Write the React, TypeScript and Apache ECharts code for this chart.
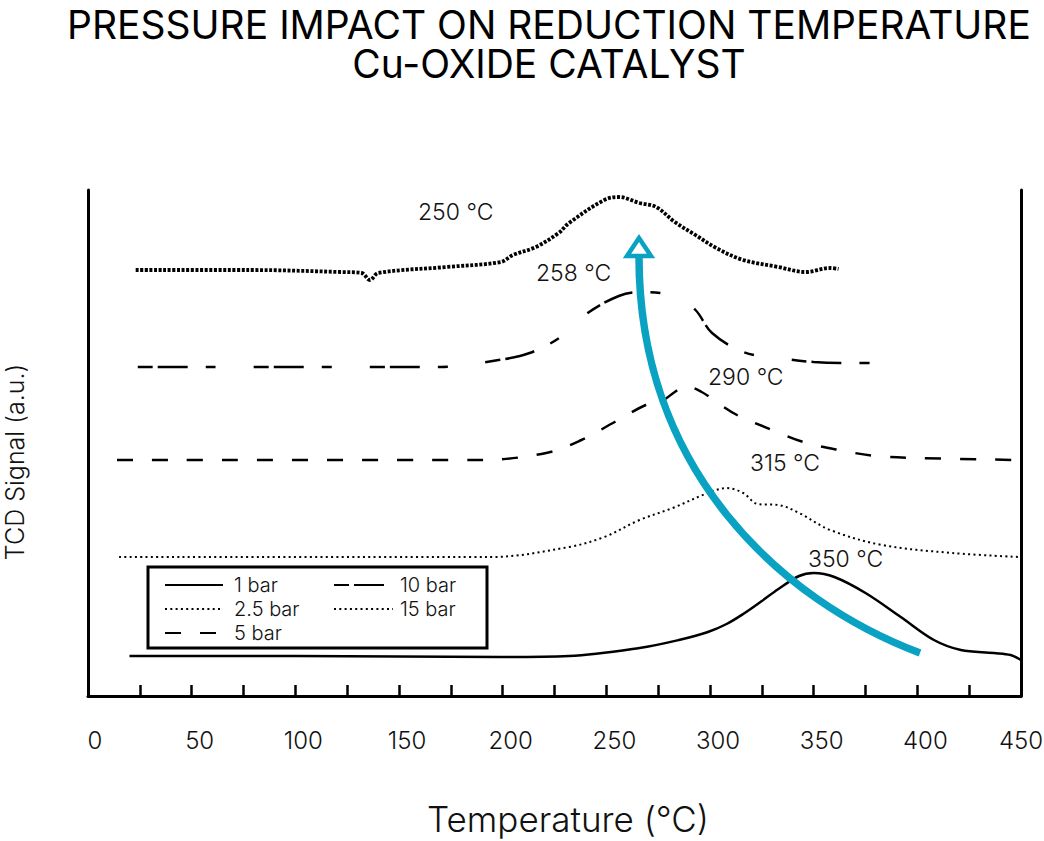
import React, { useEffect, useRef } from "react";
import * as echarts from "echarts";

// ---- data (temperature °C, TCD signal a.u.) ----
const seriesNames = ["1 bar", "2.5 bar", "5 bar", "10 bar", "15 bar"];

const bar1T = [20, 100, 199, 232, 266, 285, 299, 308, 316, 325, 333, 343, 350, 360, 375, 392, 408, 421, 437, 445, 450];
const bar1V = [40, 40, 39, 40, 48, 56, 64, 72, 82, 95, 107, 120, 123, 119, 103, 79, 56, 46, 43, 41, 36];

const bar25T = [15, 194, 232, 249, 266, 282, 299, 308, 316, 323, 333, 343, 358, 383, 417, 449];
const bar25V = [139, 139, 149, 159, 176, 188, 203, 208, 203, 192, 191, 183, 166, 151, 143, 139];

const bar5T = [14, 189, 221, 238, 254, 269, 276, 283, 288, 296, 303, 313, 330, 345, 362, 380, 400, 449];
const bar5V = [236, 236, 243, 256, 274, 291, 294, 304, 310, 304, 294, 281, 266, 254, 246, 240, 238, 236];

const bar10T = [24, 170, 198, 213, 228, 241, 256, 266, 276, 284, 293, 301, 316, 333, 350, 367, 392];
const bar10V = [329, 329, 336, 343, 359, 383, 400, 404, 403, 399, 386, 363, 344, 338, 334, 333, 333];

const bar15T = [23, 78, 122, 132, 136, 140, 173, 199, 205, 216, 227, 232, 249, 256, 266, 274, 283, 293, 303, 316, 333, 346, 358, 362];
const bar15V = [426, 426, 424, 423, 416, 423, 429, 434, 441, 449, 463, 473, 496, 499, 493, 489, 474, 461, 448, 436, 429, 424, 428, 427];

const peakLabels = ["250 °C", "258 °C", "290 °C", "315 °C", "350 °C"];
const xTickLabels = [0, 50, 100, 150, 200, 250, 300, 350, 400, 450];

const titleLine1 = "PRESSURE IMPACT ON REDUCTION TEMPERATURE";
const titleLine2 = "Cu-OXIDE CATALYST";
const xTitle = "Temperature (°C)";
const yTitle = "TCD Signal (a.u.)";

const FONT = "Inter, 'Noto Sans', sans-serif";
const TEAL = "#0aa2c2";

function pairs(t: number[], v: number[]) {
  return t.map((x, i) => [x, v[i]]);
}

export default function App() {
  const ref = useRef<HTMLDivElement>(null);

  useEffect(() => {
    if (!ref.current) return;
    const chart = echarts.init(ref.current, null, { renderer: "svg" });

    const lineStyles: any[] = [
      { width: 2.5, type: "solid" },
      { width: 2, type: [2, 3.3] },
      { width: 2.5, type: [16, 19] },
      { width: 2.5, type: [15, 5, 30, 18, 10, 38] },
      { width: 3.8, type: [3, 1.6] },
    ];
    const datasets = [
      pairs(bar1T, bar1V),
      pairs(bar25T, bar25V),
      pairs(bar5T, bar5V),
      pairs(bar10T, bar10V),
      pairs(bar15T, bar15V),
    ];

    const series = seriesNames.map((name, i) => ({
      name,
      type: "line",
      data: datasets[i],
      smooth: 0.35,
      showSymbol: false,
      symbol: "none",
      silent: true,
      color: "#000",
      lineStyle: { color: "#000", ...lineStyles[i] },
      emphasis: { disabled: true },
      z: 2,
    }));

    const labelPos = [
      [418, 212],
      [536, 273],
      [708, 377],
      [750, 463],
      [808, 559],
    ];

    const legendText = {
      fontFamily: FONT,
      fontSize: 20,
      fontWeight: 300,
      color: "#111",
    };

    const legendCommon = {
      orient: "vertical",
      top: 575,
      padding: 0,
      itemHeight: 14,
      itemGap: 4,
      selectedMode: false,
      itemStyle: { opacity: 0 },
    };

    const labelBase = { fontFamily: FONT, fontSize: 24, fontWeight: 300, color: "#111" };
    const titleStyle = {
      fontFamily: FONT,
      fontSize: 39,
      lineHeight: 34,
      fontWeight: 400,
      color: "#000",
    };

    const option: any = {
      animation: false,
      backgroundColor: "#fff",
      title: [
        { text: titleLine1, left: 549, top: 7, padding: 0, textAlign: "center", textStyle: titleStyle },
        { text: titleLine2, left: 549, top: 46.5, padding: 0, textAlign: "center", textStyle: titleStyle },
      ],
      grid: {
        left: 88,
        right: 23,
        top: 190,
        bottom: 145,
        containLabel: false,
        outerBoundsMode: "none",
      },
      legend: [
        {
          ...legendCommon,
          data: ["1 bar", "2.5 bar", "5 bar"],
          left: 164,
          itemWidth: 58,
          textStyle: { ...legendText, padding: [0, 0, 0, 6] },
        },
        {
          ...legendCommon,
          data: ["10 bar", { name: "15 bar", lineStyle: { width: 2, type: [2, 3.3] } }],
          left: 333,
          itemWidth: 59,
          textStyle: { ...legendText, padding: [0, 0, 0, 2] },
        },
      ],
      xAxis: {
        type: "value",
        min: 0,
        max: 450,
        interval: 25,
        axisLine: { show: true, lineStyle: { color: "#000", width: 3 } },
        axisTick: { show: true, inside: true, length: 11, lineStyle: { color: "#000", width: 2.5 } },
        splitLine: { show: false },
        axisLabel: {
          margin: 32,
          ...labelBase,
          formatter: (v: number) => {
            if (xTickLabels.indexOf(v) < 0) return "";
            if (v === 0) return `{z|${v}}`;
            if (v === 450) return `{e|${v}}`;
            return `{n|${v}}`;
          },
          rich: {
            n: { ...labelBase, padding: [0, 0, 0, 16] },
            z: { ...labelBase, padding: [0, 0, 0, 14] },
            e: { ...labelBase },
          },
        },
      },
      yAxis: [
        {
          type: "value",
          min: 0,
          max: 506,
          position: "left",
          axisLine: { show: true, lineStyle: { color: "#000", width: 3 } },
          axisTick: { show: false },
          axisLabel: { show: false },
          splitLine: { show: false },
        },
        {
          type: "value",
          min: 0,
          max: 506,
          position: "right",
          axisLine: { show: true, lineStyle: { color: "#000", width: 3 } },
          axisTick: { show: false },
          axisLabel: { show: false },
          splitLine: { show: false },
        },
      ],
      series,
      graphic: [
        {
          type: "rect",
          z: 1,
          shape: { x: 148, y: 567, width: 339, height: 81 },
          style: { fill: "#fff", stroke: "#000", lineWidth: 3 },
        },
        ...peakLabels.map((t, i) => ({
          type: "text",
          x: labelPos[i][0],
          y: labelPos[i][1],
          z: 50,
          style: {
            text: t,
            fontFamily: FONT,
            fontSize: 23,
            fontWeight: 300,
            fill: "#111",
            align: "left",
            verticalAlign: "middle",
          },
        })),
        {
          type: "text",
          x: 568,
          y: 819,
          style: {
            text: xTitle,
            fontFamily: FONT,
            fontSize: 35,
            fontWeight: 300,
            fill: "#111",
            align: "center",
            verticalAlign: "middle",
          },
        },
        {
          type: "text",
          x: 15,
          y: 462,
          rotation: Math.PI / 2,
          style: {
            text: yTitle,
            fontFamily: FONT,
            fontSize: 25,
            fontWeight: 300,
            fill: "#111",
            align: "center",
            verticalAlign: "middle",
          },
        },
        {
          type: "bezierCurve",
          z: 100,
          shape: {
            x1: 920,
            y1: 653,
            cpx1: 780,
            cpy1: 600,
            cpx2: 639,
            cpy2: 470,
            x2: 639,
            y2: 257,
          },
          style: { stroke: TEAL, lineWidth: 7.5, fill: null },
        },
        {
          type: "polygon",
          z: 101,
          shape: {
            points: [
              [639, 238],
              [627, 256],
              [651, 256],
            ],
          },
          style: { fill: "#fff", stroke: TEAL, lineWidth: 4.5, lineJoin: "miter" },
        },
      ],
    };

    chart.setOption(option);
    return () => chart.dispose();
  }, []);

  return (
    <div
      ref={ref}
      style={{ position: "fixed", left: 0, top: 0, width: 1044, height: 841, background: "#fff" }}
    />
  );
}
